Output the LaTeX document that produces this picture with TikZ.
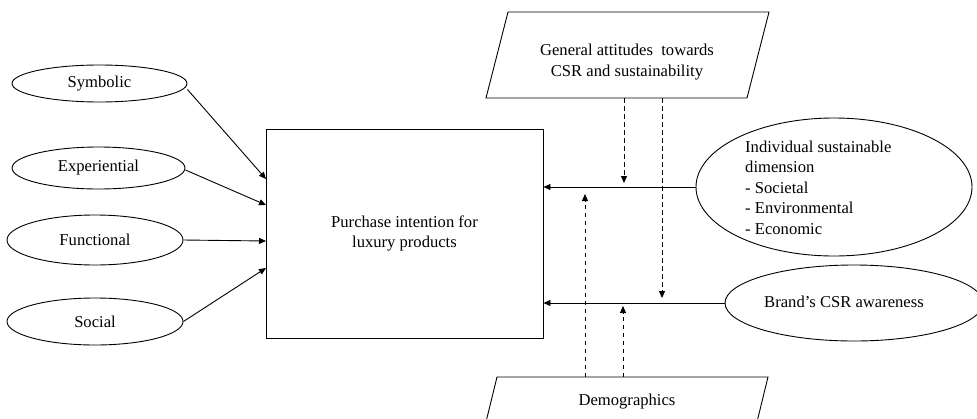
\documentclass[tikz,border=0pt]{standalone}
\usepackage{fontspec}
\setmainfont{Liberation Serif}
\usetikzlibrary{shapes.geometric,arrows.meta}
\tikzset{
  oval/.style={draw, ellipse, inner sep=0pt, line width=0.9pt},
  lbl/.style={inner sep=0pt, align=center, font=\fontsize{16.6}{20.5}\selectfont},
  conn/.style={line width=0.9pt, -{Triangle[length=7pt,width=6pt]}},
  dconn/.style={conn, dash pattern=on 4.5pt off 3.5pt},
  edge/.style={line width=0.9pt}
}
\begin{document}
\begin{tikzpicture}[x=1pt,y=-1pt]
\useasboundingbox (0,0) rectangle (977,418);
\clip (0,0) rectangle (977,418);

% left ellipses
\node[oval, minimum width=175pt, minimum height=37pt] (sym) at (99.5,83.5) {};
\node[lbl] at (sym.center) {Symbolic};
\node[oval, minimum width=173pt, minimum height=42pt] (exp) at (98.5,168) {};
\node[lbl] at (exp.center) {Experiential};
\node[oval, minimum width=176pt, minimum height=50pt] (fun) at (95,240) {};
\node[lbl] at (fun.center) {Functional};
\node[oval, minimum width=176pt, minimum height=47pt] (soc) at (95,321.5) {};
\node[lbl] at (soc.center) {Social};

% central box
\node[draw, edge, minimum width=277pt, minimum height=209pt, inner sep=0pt] (box) at (404.5,233.5) {};
\node[lbl] at (404.5,233.5) {Purchase intention for\\luxury products};

% arrows into box
\coordinate (b1) at (266,179);
\coordinate (b2) at (266,205);
\coordinate (b3) at (266,241);
\coordinate (b4) at (266,268);
\draw[conn] ([yshift=-6pt]sym.east) -- (b1);
\draw[conn] ([yshift=-2pt]exp.east) -- (b2);
\draw[conn] (fun.east) -- (b3);
\draw[conn] (soc.east) -- (b4);

% top parallelogram
\coordinate (g1) at (508,12);
\coordinate (g2) at (769,12);
\coordinate (g3) at (747,98);
\coordinate (g4) at (486,98);
\draw[edge] (g1) -- (g2) -- (g3) -- (g4) -- cycle;
\node[lbl] (gen) at (627,62) {General attitudes\ \ towards\\CSR and sustainability};

% bottom parallelogram
\coordinate (d1) at (497,377);
\coordinate (d2) at (768,377);
\coordinate (d3) at (755.5,428);
\coordinate (d4) at (484.5,428);
\draw[edge] (d4) -- (d1) -- (d2) -- (d3);
\node[lbl] (dem) at (627,402) {Demographics};

% right ellipses
\node[oval, minimum width=276pt, minimum height=138pt] (ind) at (834,187) {};
\node[lbl, align=left, anchor=west] at (745,187.5) {Individual sustainable\\dimension\\- Societal\\- Environmental\\- Economic};
\node[oval, minimum width=258pt, minimum height=76pt] (brand) at (854,303) {};
\node[lbl] at (844,302) {Brand’s CSR awareness};

% horizontal arrows into box
\draw[conn] (ind.west) -- (box.east |- ind.west);
\draw[conn] (brand.west) -- (box.east |- brand.west);

% dashed moderators
\coordinate (t1) at (624,98);
\coordinate (t1e) at (624,183);
\coordinate (t2) at (662,98);
\coordinate (t2e) at (662,298);
\coordinate (u1) at (585,377);
\coordinate (u1e) at (585,194);
\coordinate (u2) at (623,377);
\coordinate (u2e) at (623,306);
\draw[dconn] (t1) -- (t1e);
\draw[dconn] (t2) -- (t2e);
\draw[dconn] (u1) -- (u1e);
\draw[dconn] (u2) -- (u2e);
\end{tikzpicture}
\end{document}
